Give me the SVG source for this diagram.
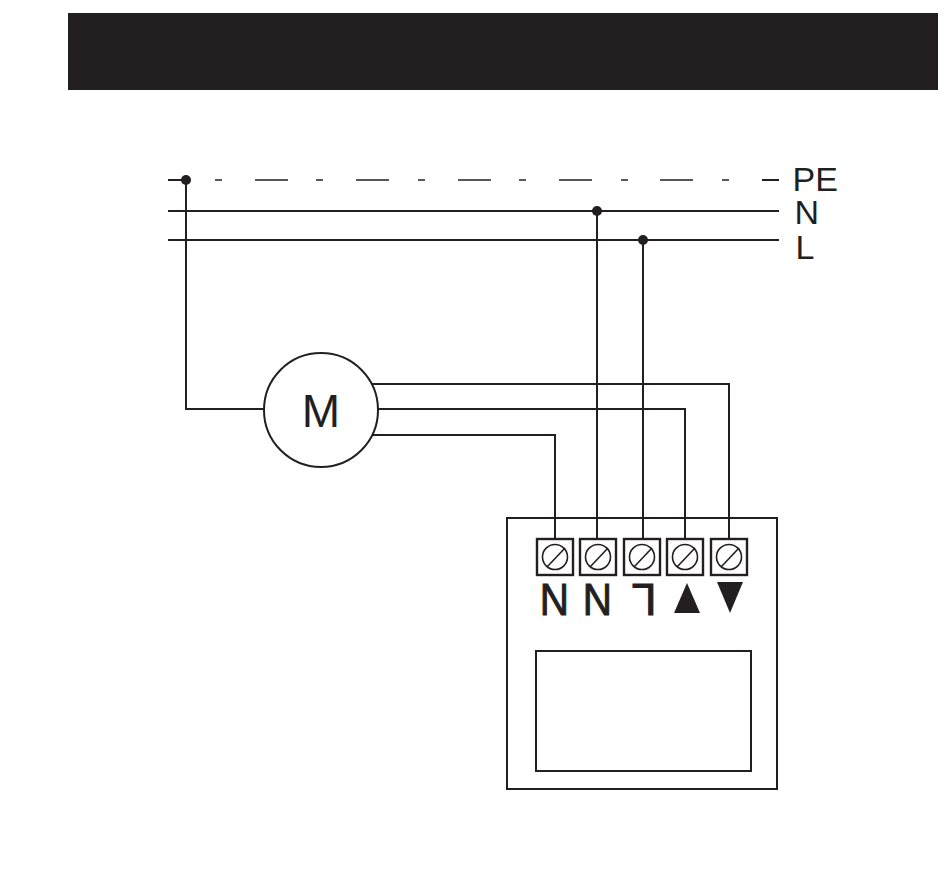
<svg xmlns="http://www.w3.org/2000/svg" width="950" height="896" viewBox="0 0 950 896">
<style>
.w{fill:none;stroke:#231f20;stroke-width:2}
.thin{fill:none;stroke:#231f20;stroke-width:1.6}
.box{fill:#fff;stroke:#231f20;stroke-width:2}
.frame{fill:none;stroke:#231f20;stroke-width:2}
.term{fill:#fff;stroke:#231f20;stroke-width:2.4}
.dot{fill:#231f20}
.t{font-family:"Liberation Sans",Arial,sans-serif;fill:#231f20}
.b{stroke:#231f20;stroke-width:1}
</style>
<rect width="950" height="896" fill="#fff"/>
<rect id="header" x="68" y="13" width="870" height="77" fill="#231f20"/>
<g id="connectors">
<path class="w" d="M168 180H186"/>
<path class="thin" d="M215 180h7M255 180h33M316 180h7M356 180h33M418 180h7M458 180h33M519 180h7M559 180h33M621 180h7M660 180h33M722 180h7"/>
<path class="w" d="M762 180h17M168 211H779M168 240H779"/>
<path class="w" d="M186 180V409H264"/>
<path class="w" d="M597 211V539M643 240V539"/>
<path class="w" d="M370 384H729V539M378 409H685V539M372 435H555V539"/>
<circle class="dot" cx="186" cy="180" r="5"/>
<circle class="dot" cx="597" cy="211" r="5"/>
<circle class="dot" cx="643" cy="240" r="5"/>
</g>
<g id="bus-labels">
<text class="t" x="792.500" y="191" font-size="34">PE</text>
<text class="t" x="794.500" y="224" font-size="34">N</text>
<text class="t" x="795.500" y="259" font-size="34">L</text>
</g>
<g id="motor">
<circle class="box" cx="321" cy="410" r="57"/>
<text class="t" x="321" y="427" font-size="46" text-anchor="middle">M</text>
</g>
<g id="controller">
<rect class="frame" x="507" y="518" width="270" height="271"/>
<rect class="frame" x="536" y="651" width="215" height="120"/>
</g>
<g id="terminal-1"><rect class="term" x="537" y="539" width="36" height="36"/><circle class="thin" cx="555" cy="557" r="12.500"/><path class="thin" d="M547 567L565 548"/></g>
<g id="terminal-2"><rect class="term" x="580" y="539" width="36" height="36"/><circle class="thin" cx="598" cy="557" r="12.500"/><path class="thin" d="M590 567L608 548"/></g>
<g id="terminal-3"><rect class="term" x="624" y="539" width="36" height="36"/><circle class="thin" cx="642" cy="557" r="12.500"/><path class="thin" d="M634 567L652 548"/></g>
<g id="terminal-4"><rect class="term" x="667" y="539" width="36" height="36"/><circle class="thin" cx="685" cy="557" r="12.500"/><path class="thin" d="M677 567L695 548"/></g>
<g id="terminal-5"><rect class="term" x="711" y="539" width="36" height="36"/><circle class="thin" cx="729" cy="557" r="12.500"/><path class="thin" d="M721 567L739 548"/></g>
<g id="terminal-labels">
<text class="t b" font-size="45" text-anchor="middle" transform="translate(554.500 583.500) rotate(180) scale(.9 1)">N</text>
<text class="t b" font-size="45" text-anchor="middle" transform="translate(597.500 583.500) rotate(180) scale(.9 1)">N</text>
<text class="t b" font-size="45" text-anchor="middle" transform="translate(644 583.500) rotate(180)">L</text>
<polygon class="dot" points="674,613 700,613 687,583"/>
<polygon class="dot" points="717,582 743,582 730,613"/>
</g>
</svg>
